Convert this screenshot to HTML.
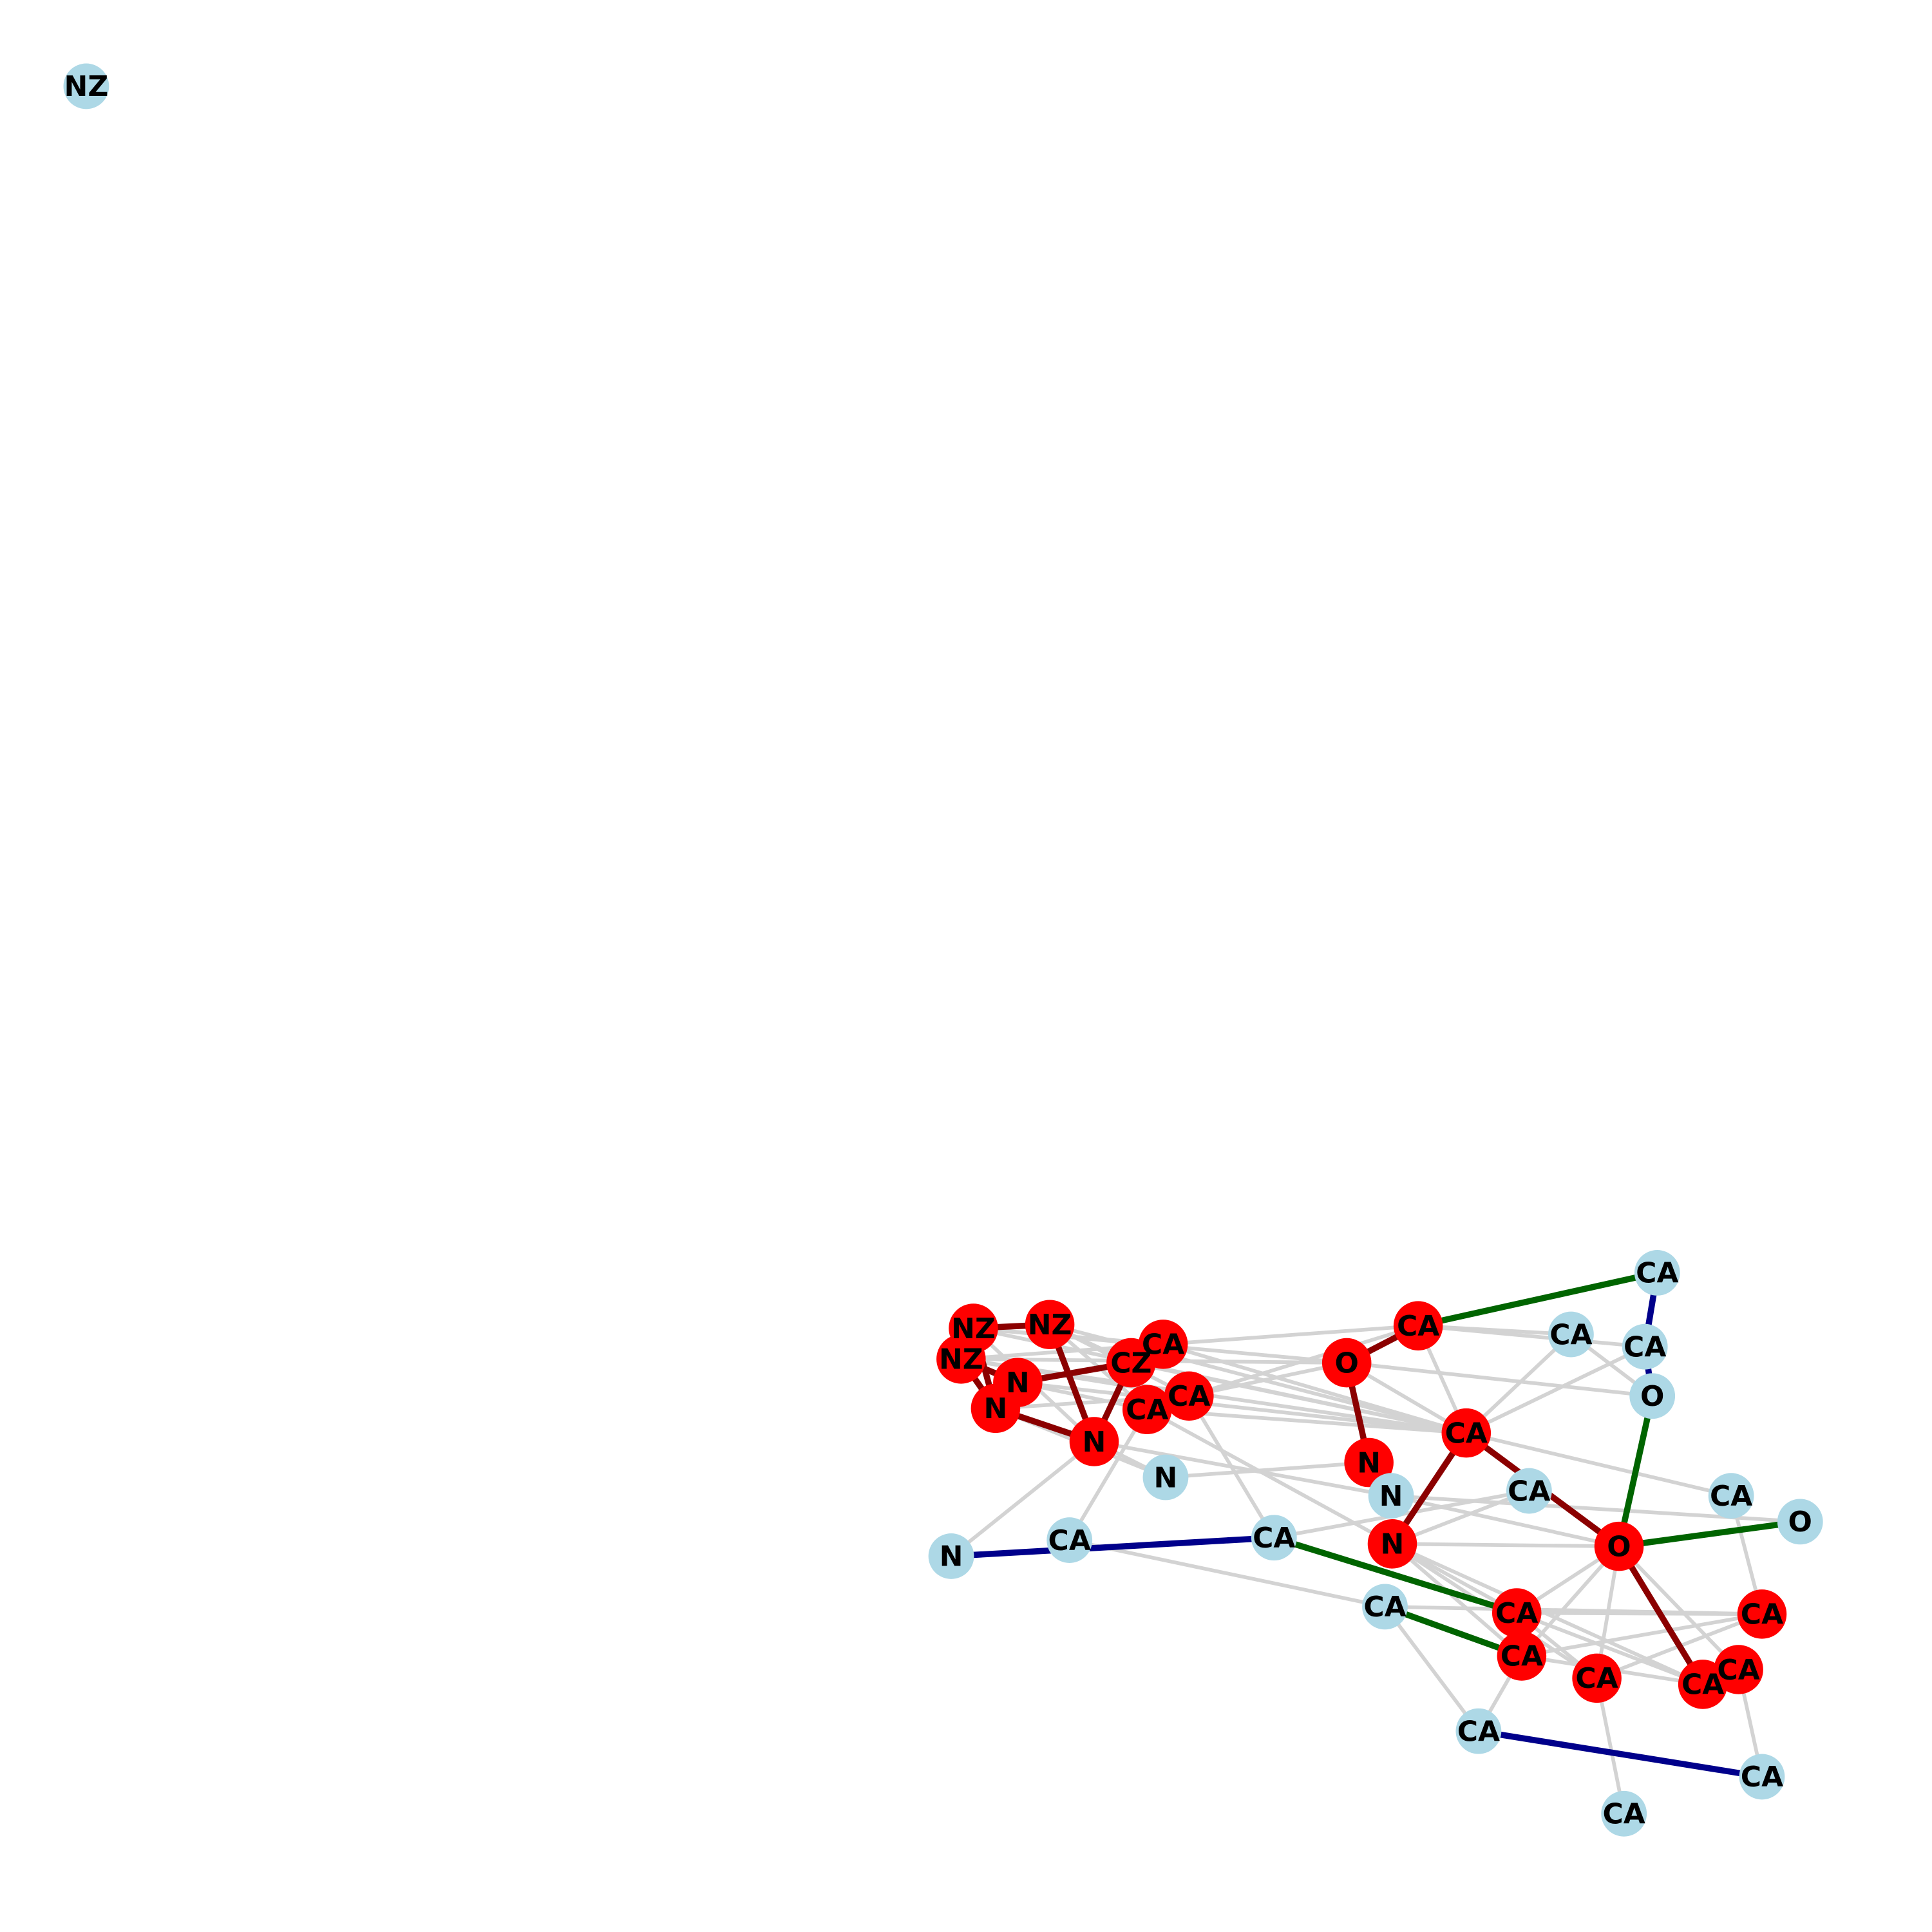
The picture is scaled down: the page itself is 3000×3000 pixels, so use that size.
<!DOCTYPE html>
<html><head><meta charset="utf-8"><style>
html,body{margin:0;padding:0;background:#fff;}
svg{display:block;}
</style></head><body>
<svg id="chart" width="3000" height="3000" viewBox="0 0 1568 1568" xmlns="http://www.w3.org/2000/svg">
<g id="edges"></g>
<g id="nodes"></g>
</svg>
<script>
const labels=["NZ","NZ","NZ","NZ","N","N","CZ","CA","CA","CA","N","O","CA","N","CA","N","O","CA","CA","CA","CA","CA","CA","N","N","CA","CA","CA","CA","O","CA","O","N","CA","CA","CA","CA","CA","CA"];
const xs=[70,790,852,780,826,808,918,944,931,965,888,1093,1151,1111,1190,1130,1314,1231,1235,1296,1382,1411,1430,946,1129,1241,1345,1275,1335,1341,1405,1461,772,868,1034,1124,1200,1430,1318];
const ys=[70,1078,1075,1103,1122,1143,1106,1091,1144,1133,1170,1106,1076,1187,1163,1253,1255,1309,1344,1362,1367,1355,1310,1199,1214,1210,1033,1083,1093,1133,1214,1235,1263,1250,1248,1304,1405,1442,1472];
const highlighted=[0,1,1,1,1,1,1,1,1,1,1,1,1,1,1,1,1,1,1,1,1,1,1,0,0,0,0,0,0,0,0,0,0,0,0,0,0,0,0];
const grayEdges=[[1,11],[1,14],[2,14],[2,9],[3,14],[3,11],[4,14],[5,23],[10,23],[10,32],[8,33],[7,12],[7,14],[9,11],[9,12],[8,14],[6,14],[9,34],[8,15],[10,24],[23,13],[12,27],[12,28],[11,29],[11,14],[12,14],[14,27],[14,28],[14,30],[24,31],[24,16],[15,16],[15,17],[15,18],[15,19],[15,20],[16,17],[16,18],[16,19],[16,21],[17,22],[17,20],[18,22],[19,22],[18,20],[17,19],[35,22],[35,36],[18,36],[19,38],[21,37],[30,22],[33,35],[34,25],[27,29],[15,25],[1,7],[2,6],[3,9],[4,8],[5,9],[1,10],[2,8],[3,7]];
const redEdges=[[1,2],[1,3],[3,5],[1,5],[4,6],[5,10],[2,10],[6,10],[4,3],[11,12],[11,13],[14,15],[14,16],[16,20]];
const greenEdges=[[12,26],[29,16],[16,31],[34,17],[35,18]];
const blueEdges=[[26,28],[28,29],[32,34],[36,37]];
const NS="http://www.w3.org/2000/svg";
const eg=document.getElementById('edges'), ng=document.getElementById('nodes');
function drawEdges(list,color,w,name){
  list.forEach(([a,b])=>{
    const l=document.createElementNS(NS,'line');
    l.setAttribute('x1',xs[a]);l.setAttribute('y1',ys[a]);l.setAttribute('x2',xs[b]);l.setAttribute('y2',ys[b]);
    l.setAttribute('stroke',color);l.setAttribute('stroke-width',w);
    
    
    eg.appendChild(l);
  });
}
drawEdges(grayEdges,'#d3d3d3',3,'edge');
drawEdges(redEdges,'#8b0000',5,'highlight-edge');
drawEdges(greenEdges,'#006400',5,'green-edge');
drawEdges(blueEdges,'#00008b',5,'blue-edge');
labels.forEach((t,i)=>{
  const c=document.createElementNS(NS,'circle');
  c.setAttribute('cx',xs[i]);c.setAttribute('cy',ys[i]);c.setAttribute('r',highlighted[i]?20:18.5);
  c.setAttribute('fill',highlighted[i]?'#ff0000':'#add8e6');
  
  
  ng.appendChild(c);
});
labels.forEach((t,i)=>{
  const tx=document.createElementNS(NS,'text');
  tx.setAttribute('x',xs[i]);tx.setAttribute('y',ys[i]+8);
  tx.setAttribute('text-anchor','middle');
  tx.setAttribute('font-family','"DejaVu Sans","Liberation Sans",sans-serif');
  tx.setAttribute('font-weight','bold');tx.setAttribute('font-size','23');
  tx.textContent=t;
  
  
  ng.appendChild(tx);
});
</script>
</body></html>
